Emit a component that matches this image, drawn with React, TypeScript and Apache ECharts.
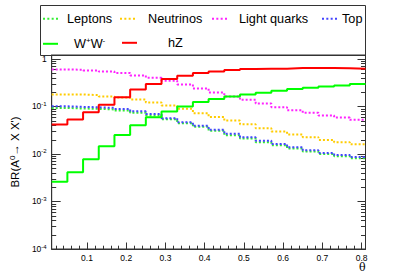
import React, { useEffect, useRef } from "react";
import * as echarts from "echarts";

// Bin edges of theta (20 bins)
const binEdges = [0.01, 0.05, 0.09, 0.13, 0.17, 0.21, 0.25, 0.29, 0.33, 0.37, 0.41, 0.45, 0.49, 0.53, 0.57, 0.61, 0.65, 0.69, 0.73, 0.77, 0.81];

const leptons = [0.0925, 0.090, 0.0885, 0.086, 0.082, 0.0735, 0.064, 0.0537, 0.0443, 0.037, 0.0305, 0.0247, 0.021, 0.0176, 0.0152, 0.0129, 0.0112, 0.0100, 0.0089, 0.0081];
const neutrinos = [0.1775, 0.1775, 0.172, 0.161, 0.153, 0.139, 0.120, 0.104, 0.0886, 0.0718, 0.060, 0.0503, 0.042, 0.0347, 0.0295, 0.0255, 0.0225, 0.0197, 0.0176, 0.016];
const lightQuarks = [0.596, 0.587, 0.567, 0.54, 0.50, 0.445, 0.398, 0.344, 0.288, 0.237, 0.195, 0.161, 0.137, 0.114, 0.096, 0.083, 0.073, 0.064, 0.058, 0.052];
const top = [0.100, 0.0973, 0.0954, 0.0927, 0.0883, 0.0786, 0.0692, 0.0564, 0.0465, 0.0389, 0.032, 0.0264, 0.0225, 0.019, 0.0162, 0.0138, 0.0119, 0.0105, 0.0095, 0.00865];
const ww = [0.00261, 0.00411, 0.00773, 0.0145, 0.0251, 0.0402, 0.0592, 0.0778, 0.099, 0.1226, 0.142, 0.161, 0.177, 0.192, 0.212, 0.230, 0.245, 0.261, 0.274, 0.293];
const hz = [0.0414, 0.0528, 0.0753, 0.108, 0.156, 0.226, 0.295, 0.374, 0.438, 0.499, 0.541, 0.577, 0.606, 0.62, 0.62, 0.637, 0.637, 0.637, 0.630, 0.615];

const yTickExponents = [-4, -3, -2, -1, 0];
const xTickLabels = ["0.1", "0.2", "0.3", "0.4", "0.5", "0.6", "0.7", "0.8"];

const X_MIN = 0.01;
const X_MAX = 0.81;
const Y_MIN = 1e-4;
const Y_MAX = 1.2;

function stepData(vals: number[]) {
  const d = vals.map((v, i) => [binEdges[i], v]);
  d.push([binEdges[binEdges.length - 1], vals[vals.length - 1]]);
  return d;
}

const FONT = "Liberation Sans, Arial, Helvetica, sans-serif";
const DOT_ICON = "path://M0,0h2v2h-2z M4.33,0h2v2h-2z M8.67,0h2v2h-2z M13,0h2v2h-2z";
const LINE_ICON = "rect";

export default function App() {
  const ref = useRef<HTMLDivElement>(null);
  useEffect(() => {
    if (!ref.current) return;
    const chart = echarts.init(ref.current, null, { renderer: "svg" });

    // minor tick positions (decoration)
    const yMinor: number[] = [];
    for (let e = -4; e < 0; e++) {
      for (let k = 2; k <= 9; k++) yMinor.push(k * Math.pow(10, e));
    }
    const xMinor: number[] = [];
    for (let i = 1; i <= 40; i++) {
      const x = Math.round(i * 0.02 * 1000) / 1000;
      if (i % 5 !== 0 && x < X_MAX) xMinor.push(x);
    }

    const seriesDefs = [
      { name: "Leptons", data: leptons, color: "#33ee33", dotted: true },
      { name: "Neutrinos", data: neutrinos, color: "#ffcc00", dotted: true },
      { name: "Light quarks", data: lightQuarks, color: "#ff22ff", dotted: true },
      { name: "Top", data: top, color: "#4444ff", dotted: true },
      { name: "W+W-", data: ww, color: "#00ff00", dotted: false },
      { name: "hZ", data: hz, color: "#ff0000", dotted: false },
    ];

    const legendPos = [
      { name: "Leptons", left: 43, top: 12.3, gap: 4, dotted: true },
      { name: "Neutrinos", left: 120, top: 12.3, gap: 8, dotted: true },
      { name: "Light quarks", left: 212, top: 12.3, gap: 7, dotted: true },
      { name: "Top", left: 322, top: 12.3, gap: 0, dotted: true },
      { name: "W+W-", left: 43, top: 36.3, gap: 11, dotted: false },
      { name: "hZ", left: 122, top: 36.3, gap: 26, dotted: false },
    ];

    const supRich = { sup: { fontSize: 8, padding: [0, 0, 6, 0], fontFamily: FONT, color: "#000" } };

    chart.setOption({
      animation: false,
      grid: { left: 40, top: 55, width: 325.5, height: 194, show: true, borderColor: "#333", borderWidth: 1, backgroundColor: "transparent" },
      graphic: [
        { type: "rect", silent: true, shape: { x: 40.5, y: 5.5, width: 325, height: 50 }, style: { fill: "none", stroke: "#333", lineWidth: 1 } },
      ],
      legend: legendPos.map((l) => ({
        data: [l.name],
        left: l.left,
        top: l.top,
        padding: 0,
        itemWidth: 15,
        itemHeight: 2,
        icon: l.dotted ? DOT_ICON : LINE_ICON,
        selectedMode: false,
        formatter: l.name === "W+W-" ? "W{sup|+}W{sup|-}" : "{name}",
        textStyle: {
          fontSize: 12.7,
          fontFamily: FONT,
          color: "#000",
          padding: [0, 0, 0, l.gap],
          rich: { sup: { fontSize: 8, padding: [0, 0, 7, 0], fontFamily: FONT, color: "#000" } },
        },
      })),
      xAxis: {
        type: "value",
        min: X_MIN,
        max: X_MAX,
        splitNumber: 8,
        name: "θ",
        nameLocation: "end",
        nameGap: 0,
        nameTextStyle: { align: "right", verticalAlign: "top", padding: [13, 0, 0, 0], fontSize: 11, fontFamily: "DejaVu Serif, serif", color: "#000" },
        axisLine: { lineStyle: { color: "#333", width: 1 } },
        axisTick: { inside: true, length: 6.5, lineStyle: { color: "#333" } },
        axisLabel: {
          showMinLabel: false,
          showMaxLabel: false,
          fontSize: 8.5,
          fontFamily: FONT,
          color: "#000",
          margin: 4,
          formatter: (v: number) => {
            const s = v.toFixed(1);
            return xTickLabels.indexOf(s) >= 0 ? s : "";
          },
        },
        splitLine: { show: false },
      },
      yAxis: [
        {
          type: "log",
          min: Y_MIN,
          max: Y_MAX,
          name: "BR(A{sup|0}→ X X')",
          nameLocation: "middle",
          nameGap: 27,
          nameTextStyle: { fontSize: 11.5, fontFamily: FONT, color: "#000", rich: supRich },
          axisLine: { show: true, lineStyle: { color: "#333", width: 1 } },
          axisTick: { inside: true, length: 9, lineStyle: { color: "#333" } },
          axisLabel: {
            showMaxLabel: false,
            fontSize: 8.5,
            fontFamily: FONT,
            color: "#000",
            margin: 5,
            formatter: (v: number) => {
              const e = Math.round(Math.log10(v));
              if (yTickExponents.indexOf(e) < 0) return "";
              if (e === 0) return "1";
              return "10{sup|" + e + "}";
            },
            rich: { sup: { fontSize: 6, padding: [0, 0, 5, 0], fontFamily: FONT, color: "#000" } },
          },
          splitLine: { show: false },
        },
        {
          type: "log",
          min: Y_MIN,
          max: Y_MAX,
          position: "right",
          axisLine: { show: false },
          axisTick: { inside: true, length: 8, lineStyle: { color: "#333" } },
          axisLabel: { show: false },
          splitLine: { show: false },
        },
      ],
      series: [
        ...seriesDefs.map((s) => ({
          type: "line",
          name: s.name,
          data: stepData(s.data),
          step: "end",
          symbol: "none",
          lineStyle: { color: s.color, width: 2, type: s.dotted ? [2, 2] : "solid" },
          itemStyle: { color: s.color },
        })),
        {
          type: "custom",
          name: "yminor",
          silent: true,
          clip: false,
          coordinateSystem: "cartesian2d",
          data: yMinor.map((v) => [X_MIN, v]),
          encode: { x: 0, y: 1 },
          renderItem: (params: any, api: any) => {
            const y = Math.round(api.coord([X_MIN, api.value(1)])[1]) + 0.5;
            const xl = api.coord([X_MIN, 1])[0];
            const xr = api.coord([X_MAX, 1])[0];
            return {
              type: "group",
              children: [
                { type: "line", shape: { x1: xl, y1: y, x2: xl + 4.5, y2: y }, style: { stroke: "#333", lineWidth: 1 } },
                { type: "line", shape: { x1: xr - 4.5, y1: y, x2: xr, y2: y }, style: { stroke: "#333", lineWidth: 1 } },
              ],
            };
          },
        },
        {
          type: "custom",
          name: "xminor",
          silent: true,
          clip: false,
          coordinateSystem: "cartesian2d",
          data: xMinor.map((x) => [x, Y_MIN]),
          encode: { x: 0, y: 1 },
          renderItem: (params: any, api: any) => {
            const p = api.coord([api.value(0), Y_MIN]);
            const x = Math.round(p[0]) + 0.5;
            return { type: "line", shape: { x1: x, y1: p[1], x2: x, y2: p[1] - 3.3 }, style: { stroke: "#333", lineWidth: 1 } };
          },
        },
      ],
    });
    return () => chart.dispose();
  }, []);
  return <div ref={ref} style={{ position: "absolute", left: 0, top: 0, width: 407, height: 277 }} />;
}
